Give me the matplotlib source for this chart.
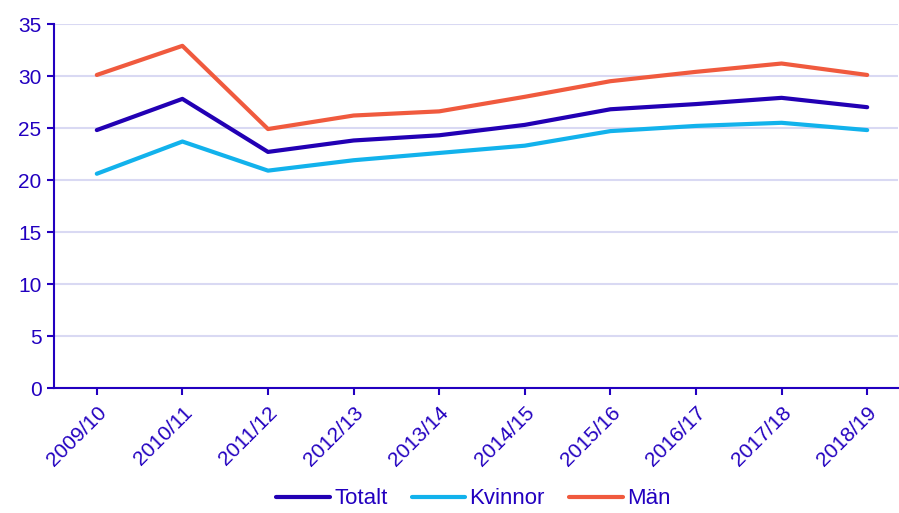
import matplotlib
matplotlib.use('Agg')
import matplotlib.pyplot as plt

plt.rcParams['font.family'] = ['Liberation Sans', 'DejaVu Sans']

years = ['2009/10', '2010/11', '2011/12', '2012/13', '2013/14',
         '2014/15', '2015/16', '2016/17', '2017/18', '2018/19']
totalt = [24.8, 27.8, 22.7, 23.8, 24.3, 25.3, 26.8, 27.3, 27.9, 27.0]
kvinnor = [20.6, 23.7, 20.9, 21.9, 22.6, 23.3, 24.7, 25.2, 25.5, 24.8]
man = [30.1, 32.9, 24.9, 26.2, 26.6, 28.0, 29.5, 30.4, 31.2, 30.1]

txtCol = '#2200C0'
gridCol = '#D9D9F3'

fig = plt.figure(figsize=(8.99, 5.13), dpi=100)
ax = fig.add_axes([54 / 899, 1 - 388 / 513, (898 - 54) / 899, (388 - 24) / 513])

x = list(range(len(years)))
ax.plot(x, totalt, color='#2200B4', lw=3, label='Totalt', solid_capstyle='round')
ax.plot(x, kvinnor, color='#12B2EC', lw=3, label='Kvinnor', solid_capstyle='round')
ax.plot(x, man, color='#F05A3E', lw=3, label='Män', solid_capstyle='round')

ax.set_xlim(-0.5, 9.36)
ax.set_ylim(0, 35)
ax.set_yticks(range(0, 36, 5))
ax.set_xticks(x)
ax.set_xticklabels(years, rotation=45, ha='right', rotation_mode='anchor')

ax.grid(axis='y', color=gridCol, lw=1.5)
ax.set_axisbelow(True)
for s in ['top', 'right']:
	ax.spines[s].set_visible(False)
for s in ['left', 'bottom']:
	ax.spines[s].set_color(txtCol)
	ax.spines[s].set_linewidth(1.5)
ax.tick_params(colors=txtCol, labelsize=15, length=5, width=1.5)
ax.tick_params(axis='x', pad=6)
ax.tick_params(axis='y', pad=4)

ax.legend(loc='lower center', bbox_to_anchor=(0.497, -0.37), ncol=3, frameon=False,
	fontsize=16, labelcolor=txtCol, handlelength=2.4, handletextpad=0.2, columnspacing=1.1,
	borderpad=0.1)

fig.savefig('out.png', dpi=100)
